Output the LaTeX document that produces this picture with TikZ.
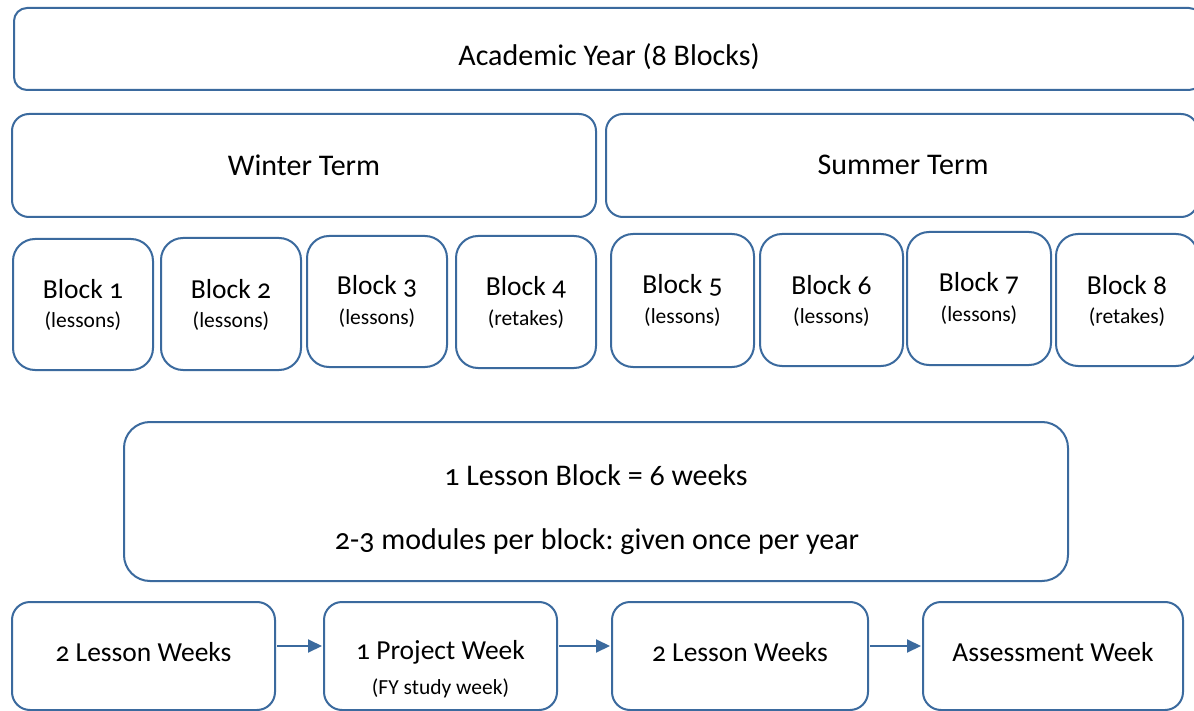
\documentclass[tikz,border=0pt]{standalone}
\usepackage{fontspec}
\setmainfont{Carlito}[Numbers=OldStyle]
\usetikzlibrary{arrows.meta}
\definecolor{bl}{RGB}{59,106,158}
\frenchspacing
\begin{document}
\begin{tikzpicture}[x=1pt,y=-1pt,
  box/.style={draw=bl, line width=2pt, rounded corners=#1, inner sep=0pt, outer sep=0pt},
  huge/.style={inner sep=0pt, font=\fontsize{30}{36}\selectfont},
  big/.style={inner sep=0pt, font=\fontsize{27.5}{33}\selectfont},
  small/.style={inner sep=0pt, font=\fontsize{21.5}{26}\selectfont},
  arr/.style={draw=bl, line width=2pt, -{Triangle[length=14pt,width=13pt]}, shorten <=2pt, shorten >=2pt}]
\useasboundingbox[fill=white] (0,0) rectangle (1194,711);
% top
\node[box=13, minimum width=1188, minimum height=82] (year) at (608,49) {};
\node[huge] (yeart) at (609,57) {Academic Year (8 Blocks)};
\node[box=17, minimum width=584, minimum height=103] (winter) at (304,165.5) {};
\node[huge] (wintert) at (304,165) {Winter Term};
\node[box=17, minimum width=592, minimum height=103] (summer) at (902,165.5) {};
\node[huge] (summert) at (903,165) {Summer Term};
% blocks
\foreach \n/\cx/\cy/\w/\h/\sub in {1/83/304.5/140/131/lessons, 2/231/304/140/132/lessons, 3/377/301.5/140/131/lessons, 4/526/302/140/132/retakes, 5/682.5/300.5/143/133/lessons, 6/831.5/300/143/132/lessons, 7/979/298.5/144/133/lessons, 8/1127/300/142/132/retakes}{
  \node[box=22, minimum width=\w, minimum height=\h] (b\n) at (\cx,\cy) {};
  \node[big] (b\n t) at ([yshift=15pt]b\n.center) {Block \n};
  \node[small] (b\n s) at ([yshift=-17pt]b\n.center) {(\sub)};
}
% lesson block box
\node[box=26, minimum width=944, minimum height=159] (lb) at (596,501.5) {};
\node[huge] (lb1) at (596,475) {1 Lesson Block = 6 weeks};
\node[huge] (lb2) at (597,542) {2-3 modules per block: given once per year};
% weeks
\node[box=18, minimum width=263, minimum height=108] (w1) at (143.5,656) {};
\node[big] (w1t) at (143.5,652) {2 Lesson Weeks};
\node[box=18, minimum width=233, minimum height=108] (w2) at (440.5,656) {};
\node[big] (w2t) at (440.5,652) {1 Project Week};
\node[small] (w2s) at (440.5,688) {(FY study week)};
\node[box=18, minimum width=256, minimum height=108] (w3) at (740,656) {};
\node[big] (w3t) at (740,652) {2 Lesson Weeks};
\node[box=18, minimum width=260, minimum height=108] (w4) at (1053,656) {};
\node[big] (w4t) at (1053,652) {Assessment Week};
\draw[arr] ([yshift=10pt]w1.east) -- ([yshift=10pt]w2.west);
\draw[arr] ([yshift=10pt]w2.east) -- ([yshift=10pt]w3.west);
\draw[arr] ([yshift=10pt]w3.east) -- ([yshift=10pt]w4.west);
\end{tikzpicture}
\end{document}
